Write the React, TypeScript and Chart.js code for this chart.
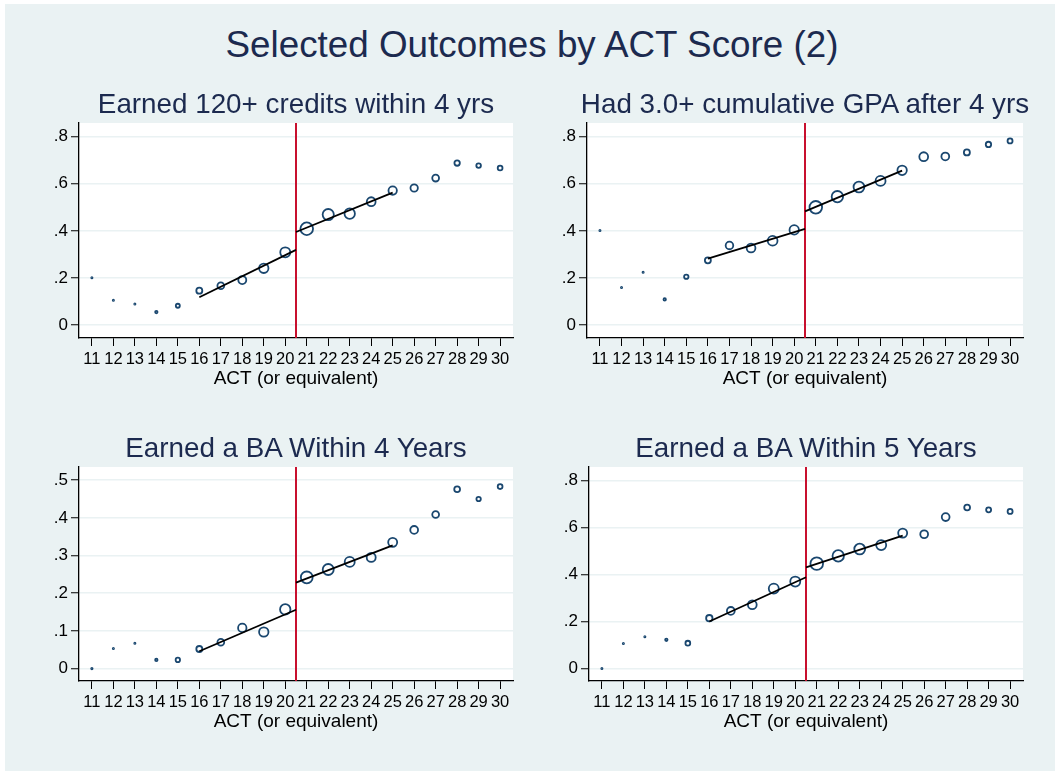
import React, { useEffect, useRef } from 'react';
import { Chart, registerables } from 'chart.js';
Chart.register(...registerables);

// ---------- data ----------
const act = [11, 12, 13, 14, 15, 16, 17, 18, 19, 20, 21, 22, 23, 24, 25, 26, 27, 28, 29, 30];
const cutoff = 20.5;

const credits120 = [0.201, 0.105, 0.089, 0.055, 0.082, 0.146, 0.167, 0.191, 0.241, 0.309, 0.409, 0.469, 0.473, 0.524, 0.571, 0.582, 0.624, 0.688, 0.677, 0.667];
const credits120N = [1.1, 1.0, 1.5, 2.1, 2.9, 3.9, 4.3, 4.9, 5.6, 5.9, 7.2, 6.5, 6.1, 5.3, 5.1, 4.6, 4.3, 3.6, 3.2, 3.3];
const credits120FitL = [0.118, 0.319];
const credits120FitR = [0.395, 0.562];

const gpa3 = [0.402, 0.159, 0.224, 0.109, 0.205, 0.275, 0.338, 0.327, 0.358, 0.404, 0.5, 0.545, 0.586, 0.612, 0.657, 0.715, 0.716, 0.733, 0.767, 0.782];
const gpa3N = [1.0, 0.9, 1.5, 2.1, 3.1, 3.9, 4.7, 5.3, 5.8, 5.6, 7.2, 6.6, 6.3, 5.9, 5.6, 5.3, 4.8, 3.9, 3.6, 3.4];
const gpa3FitL = [0.282, 0.408];
const gpa3FitR = [0.483, 0.656];

const ba4 = [0.0, 0.053, 0.067, 0.023, 0.023, 0.052, 0.07, 0.108, 0.097, 0.157, 0.242, 0.263, 0.283, 0.295, 0.335, 0.368, 0.409, 0.476, 0.45, 0.483];
const ba4N = [1.6, 1.0, 1.5, 2.1, 3.1, 3.9, 4.3, 5.1, 5.6, 6.1, 6.8, 6.4, 5.9, 5.4, 5.4, 4.8, 4.3, 3.8, 3.1, 3.3];
const ba4FitL = [0.046, 0.156];
const ba4FitR = [0.228, 0.327];

const ba5 = [0.0, 0.106, 0.135, 0.122, 0.108, 0.214, 0.245, 0.271, 0.34, 0.37, 0.446, 0.479, 0.508, 0.525, 0.576, 0.571, 0.644, 0.685, 0.675, 0.668];
const ba5N = [1.0, 1.1, 1.5, 2.1, 3.3, 4.1, 4.8, 5.3, 5.9, 5.9, 7.2, 6.6, 6.3, 5.9, 5.4, 4.8, 4.8, 3.8, 3.4, 3.4];
const ba5FitL = [0.2, 0.388];
const ba5FitR = [0.43, 0.565];

const fitLX = [16, 20.5];
const fitRX = [20.5, 25];

const ticks8 = [0, 0.2, 0.4, 0.6, 0.8];
const ticks5 = [0, 0.1, 0.2, 0.3, 0.4, 0.5];

const mainTitle = 'Selected Outcomes by ACT Score (2)';
const xTitle = 'ACT (or equivalent)';

// ---------- styles ----------
const FONT = 'Arial, "Liberation Sans", Helvetica, sans-serif';
const NAVY = '#1a476f';
const TITLE_COLOR = '#1c2a4f';
const BG = '#eaf2f3';
const RED = '#c8102e';
const BW = 1.8;

const whiteArea = {
  id: 'whiteArea',
  beforeDraw(chart: any) {
    const { ctx, chartArea: a } = chart;
    ctx.save();
    ctx.fillStyle = '#ffffff';
    ctx.fillRect(a.left, a.top, a.right - a.left, a.bottom - a.top);
    ctx.restore();
  },
};

type PanelProps = {
  title: string;
  box: { left: number; top: number; width: number; height: number };
  area: { l: number; r: number; t: number; b: number };
  yMin: number;
  yMax: number;
  yTicks: number[];
  values: number[];
  sizes: number[];
  fitL: number[];
  fitR: number[];
};

function fmt(v: number) {
  if (Math.abs(v) < 1e-9) return '0';
  return v.toFixed(1).replace(/^0\./, '.');
}

function Panel(p: PanelProps) {
  const ref = useRef<HTMLCanvasElement>(null);
  useEffect(() => {
    const yAxisW = p.area.l - p.box.left;
    const padRight = p.box.left + p.box.width - p.area.r;
    const padTop = p.area.t - p.box.top;
    const xAxisH = p.box.top + p.box.height - p.area.b;

    const chart = new Chart(ref.current!, {
      type: 'scatter',
      data: {
        datasets: [
          {
            data: fitLX.map((x, i) => ({ x, y: p.fitL[i] })),
            showLine: true,
            borderColor: '#000',
            borderWidth: 1.8,
            pointRadius: 0,
          },
          {
            data: fitRX.map((x, i) => ({ x, y: p.fitR[i] })),
            showLine: true,
            borderColor: '#000',
            borderWidth: 1.8,
            pointRadius: 0,
          },
          {
            data: [
              { x: cutoff, y: p.yMin },
              { x: cutoff, y: p.yMax },
            ],
            showLine: true,
            borderColor: RED,
            borderWidth: 2,
            pointRadius: 0,
          },
          {
            data: act.map((x, i) => ({ x, y: p.values[i] })),
            pointRadius: p.sizes.map((s) => Math.max(s - BW / 2, 0.6)),
            pointStyle: 'circle',
            backgroundColor: 'rgba(0,0,0,0)',
            borderColor: NAVY,
            borderWidth: BW,
          },
        ],
      },
      plugins: [whiteArea],
      options: {
        animation: false,
        responsive: false,
        events: [],
        layout: { padding: { left: 0, right: padRight, top: padTop, bottom: 0 } },
        plugins: {
          legend: { display: false },
          tooltip: { enabled: false },
          title: { display: false },
        },
        scales: {
          x: {
            type: 'linear',
            min: 10.4,
            max: 30.6,
            afterBuildTicks: (s: any) => {
              s.ticks = act.map((v) => ({ value: v }));
            },
            afterFit: (s: any) => {
              s.height = xAxisH;
            },
            ticks: {
              autoSkip: false,
              maxRotation: 0,
              color: '#000',
              padding: 4,
              font: { family: FONT, size: 16.5 },
              callback: (v: any) => String(v),
            },
            grid: {
              drawOnChartArea: false,
              drawTicks: true,
              tickLength: 8,
              tickColor: '#000',
              tickWidth: 1,
            },
            border: { display: true, color: '#000', width: 1.3 },
            title: {
              display: true,
              text: xTitle,
              color: '#000',
              font: { family: FONT, size: 19 },
              padding: { top: 0, bottom: 5 },
            },
          },
          y: {
            type: 'linear',
            min: p.yMin,
            max: p.yMax,
            afterBuildTicks: (s: any) => {
              s.ticks = p.yTicks.map((v) => ({ value: v }));
            },
            afterFit: (s: any) => {
              s.width = yAxisW;
            },
            ticks: {
              color: '#000',
              padding: 3,
              font: { family: FONT, size: 17 },
              callback: (v: any) => fmt(Number(v)),
            },
            grid: {
              color: BG,
              lineWidth: 1.5,
              drawTicks: true,
              tickLength: 8,
              tickColor: '#000',
              tickWidth: 1,
            },
            border: { display: true, color: '#000', width: 1.3 },
          },
        },
      } as any,
    });
    return () => chart.destroy();
  }, []);
  return (
    <>
      <canvas
        ref={ref}
        width={p.box.width}
        height={p.box.height}
        style={{ position: 'absolute', left: p.box.left, top: p.box.top, width: p.box.width, height: p.box.height }}
      />
      <div
        style={{
          position: 'absolute',
          left: p.area.l - 100,
          width: p.area.r - p.area.l + 200,
          top: p.area.t - 35,
          height: 32,
          lineHeight: '32px',
          textAlign: 'center',
          fontFamily: FONT,
          fontSize: 27.8,
          color: TITLE_COLOR,
          whiteSpace: 'nowrap',
        }}
      >
        {p.title}
      </div>
    </>
  );
}

export default function App() {
  return (
    <div style={{ position: 'fixed', left: 0, top: 0, width: 1055, height: 771, background: '#fff', overflow: 'hidden' }}>
      <div style={{ position: 'absolute', left: 5, top: 4, right: 0, bottom: 0, background: BG }} />
      <div
        style={{
          position: 'absolute',
          left: 0,
          width: 1064,
          top: 24,
          textAlign: 'center',
          fontFamily: FONT,
          fontSize: 36.8,
          lineHeight: '42px',
          color: TITLE_COLOR,
          whiteSpace: 'nowrap',
        }}
      >
        {mainTitle}
      </div>
      <Panel
        title="Earned 120+ credits within 4 yrs"
        box={{ left: 10, top: 85, width: 520, height: 310 }}
        area={{ l: 79, r: 513, t: 123, b: 338 }}
        yMin={-0.055}
        yMax={0.858}
        yTicks={ticks8}
        values={credits120}
        sizes={credits120N}
        fitL={credits120FitL}
        fitR={credits120FitR}
      />
      <Panel
        title="Had 3.0+ cumulative GPA after 4 yrs"
        box={{ left: 530, top: 85, width: 520, height: 310 }}
        area={{ l: 587, r: 1023, t: 123, b: 338 }}
        yMin={-0.055}
        yMax={0.858}
        yTicks={ticks8}
        values={gpa3}
        sizes={gpa3N}
        fitL={gpa3FitL}
        fitR={gpa3FitR}
      />
      <Panel
        title="Earned a BA Within 4 Years"
        box={{ left: 10, top: 428, width: 520, height: 310 }}
        area={{ l: 79, r: 513, t: 467, b: 681 }}
        yMin={-0.033}
        yMax={0.535}
        yTicks={ticks5}
        values={ba4}
        sizes={ba4N}
        fitL={ba4FitL}
        fitR={ba4FitR}
      />
      <Panel
        title="Earned a BA Within 5 Years"
        box={{ left: 530, top: 428, width: 520, height: 310 }}
        area={{ l: 589, r: 1023, t: 467, b: 681 }}
        yMin={-0.053}
        yMax={0.857}
        yTicks={ticks8}
        values={ba5}
        sizes={ba5N}
        fitL={ba5FitL}
        fitR={ba5FitR}
      />
    </div>
  );
}
